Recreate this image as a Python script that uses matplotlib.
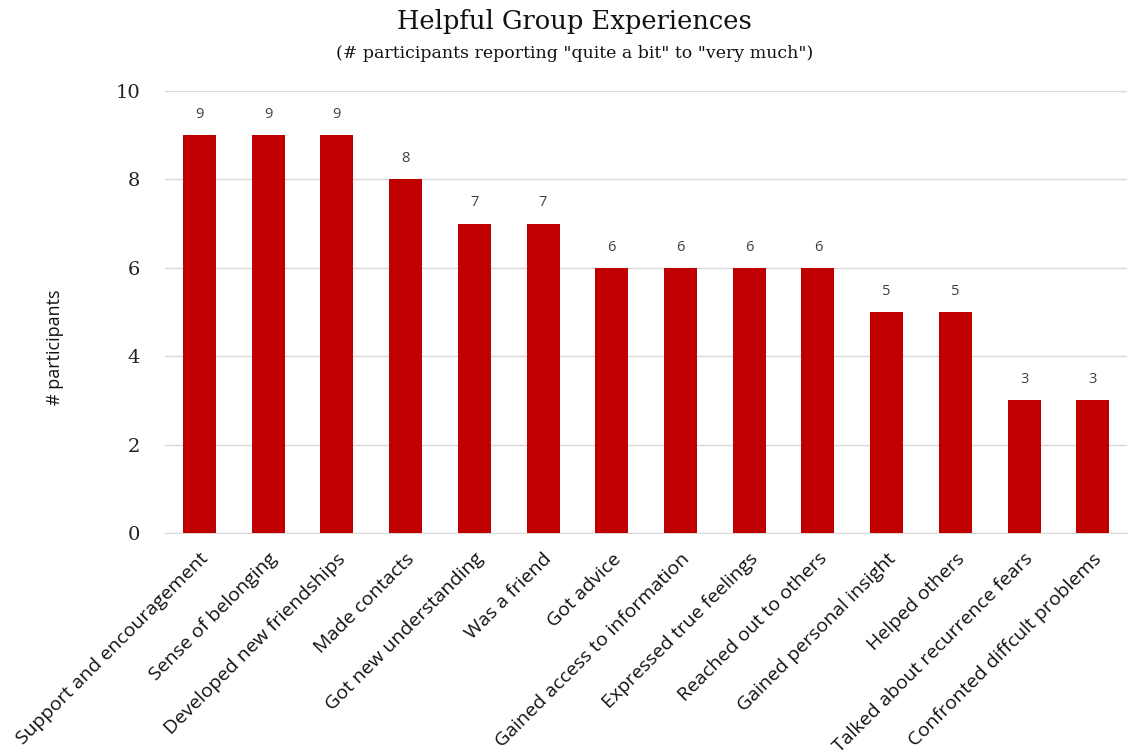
import matplotlib
matplotlib.use("Agg")
import matplotlib.pyplot as plt
import numpy as np

categories = ["Support and encouragement", "Sense of belonging", "Developed new friendships",
              "Made contacts", "Got new understanding", "Was a friend", "Got advice",
              "Gained access to information", "Expressed true feelings", "Reached out to others",
              "Gained personal insight", "Helped others", "Talked about recurrence fears",
              "Confronted diffcult problems"]
values = [9, 9, 9, 8, 7, 7, 6, 6, 6, 6, 5, 5, 3, 3]
yticks = [0, 2, 4, 6, 8, 10]

fig = plt.figure(figsize=(11.28, 7.56), dpi=100)
ax = fig.add_axes([0.1463, 0.295, 0.853, 0.5846])

x = np.arange(len(categories))
bars = ax.bar(x, values, width=0.48, color="#C00000", zorder=3)
for xi, v in zip(x, values):
    ax.text(xi, v + 0.3, str(v), ha="center", va="bottom", fontsize=10.5,
            color="#404040", family="Open Sans")

ax.set_xlim(-0.5, len(categories) - 0.5)
ax.set_ylim(0, 10)
ax.set_yticks(yticks)
ax.set_yticklabels([str(t) for t in yticks], fontsize=14, family="DejaVu Serif", color="#222222")
ax.yaxis.grid(True, color="#D9D9D9", linewidth=1, zorder=0)
ax.tick_params(axis="y", length=0, pad=18)
ax.tick_params(axis="x", length=0, pad=12)
for s in ["top", "right", "left"]:
    ax.spines[s].set_visible(False)
ax.spines["bottom"].set_color("#D9D9D9")

ax.set_xticks(x)
ax.set_xticklabels(categories, rotation=45, ha="right", rotation_mode="anchor",
                   fontsize=14, family="Open Sans", color="#111111")

fig.text(0.049, 0.541, "# participants", rotation=90, ha="center", va="center",
         fontsize=13, family="Open Sans", color="#111111")
fig.text(0.509, 0.972, "Helpful Group Experiences", ha="center", va="center",
         fontsize=18.5, family="DejaVu Serif", color="#111111")
fig.text(0.509, 0.929, "(# participants reporting \"quite a bit\" to \"very much\")",
         ha="center", va="center", fontsize=12.5, family="DejaVu Serif", color="#111111")

fig.savefig("out.png", dpi=100)
